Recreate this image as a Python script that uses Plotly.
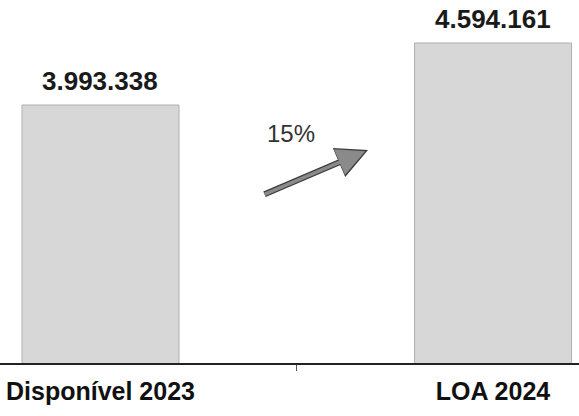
import plotly.graph_objects as go

categories = ["Disponível 2023", "LOA 2024"]
values = [3993338, 4594161]
growth_label = "15%"

def fmt(v):
    return f"{v:,}".replace(",", ".")

FONT = "Arial, Liberation Sans, sans-serif"

fig = go.Figure()
fig.add_trace(go.Bar(
    x=categories,
    y=values,
    width=0.4,
    marker=dict(color="#d7d7d7", line=dict(color="#b0b0b0", width=1)),
    hoverinfo="skip",
))

for c, v in zip(categories, values):
    fig.add_annotation(
        x=c, y=v, text=f"<b>{fmt(v)}</b>", showarrow=False,
        yanchor="bottom", yshift=7,
        font=dict(family=FONT, size=26, color="#1a1a1a"),
    )

# growth arrow
fig.add_annotation(
    xref="paper", yref="paper", x=368/579, y=1-150/363,
    axref="pixel", ayref="pixel", ax=-105, ay=45,
    text="", showarrow=True, arrowhead=2, arrowsize=1.05,
    arrowwidth=6, arrowcolor="#3c3c3c", standoff=0,
)
fig.add_annotation(
    xref="paper", yref="paper", x=368/579, y=1-150/363,
    axref="pixel", ayref="pixel", ax=-105, ay=45,
    text="", showarrow=True, arrowhead=2, arrowsize=1.6,
    arrowwidth=3.5, arrowcolor="#8a8a8a", standoff=3,
)
fig.add_annotation(
    xref="paper", yref="paper", x=291/579, y=1-133/363,
    text=growth_label, showarrow=False,
    font=dict(family=FONT, size=24, color="#333333"),
)

fig.update_layout(
    width=579, height=416,
    margin=dict(l=0, r=0, t=0, b=53),
    paper_bgcolor="white", plot_bgcolor="white",
    showlegend=False,
    hovermode=False,
    xaxis=dict(
        type="category", range=[-0.256, 1.219], automargin=False,
        showline=True, linecolor="#222222", linewidth=2,
        ticks="outside", tickson="boundaries", ticklen=6,
        tickcolor="#555555", tickwidth=1,
        tickfont=dict(family=FONT, size=25, color="#111111", weight="bold"),
        ticklabelstandoff=5,
        showgrid=False, zeroline=False,
    ),
    yaxis=dict(
        range=[1.493e6, 5.011e6], visible=False, automargin=False,
        showgrid=False, zeroline=False,
    ),
)

fig.write_html(
    "out.html",
    config={"displayModeBar": False},
    post_script="document.body.style.margin='0';document.body.style.overflow='hidden';",
)
